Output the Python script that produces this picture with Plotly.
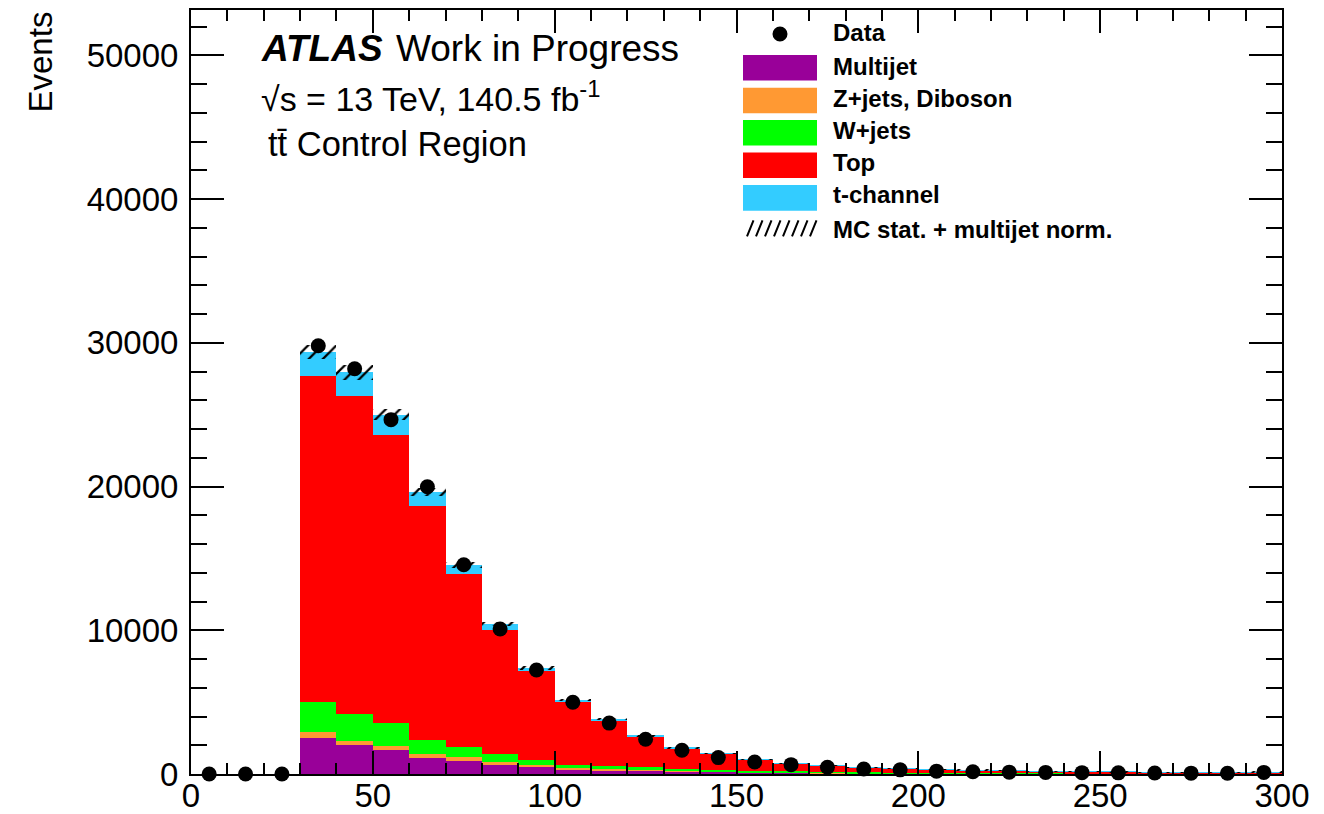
import numpy as np
import plotly.graph_objects as go

# ---------------- data ----------------
bin_low = list(range(0, 300, 10))
bin_centers = [b + 5 for b in bin_low]
bin_width = 10

multijet = [0, 0, 0, 2500, 2010, 1670, 1110, 925, 625, 460, 310, 265, 240, 175, 140,
            100, 80, 60, 50, 40, 35, 30, 25, 20, 18, 15, 12, 10, 8, 10]
zjets_diboson = [0, 0, 0, 390, 305, 270, 280, 255, 185, 140, 120, 90, 70, 50, 40,
                 30, 25, 20, 15, 12, 10, 8, 7, 6, 5, 4, 3, 3, 2, 3]
wjets = [0, 0, 0, 2130, 1855, 1600, 990, 695, 555, 370, 230, 235, 160, 110, 130,
         110, 85, 70, 55, 45, 38, 30, 25, 20, 18, 15, 12, 10, 8, 15]
top = [0, 0, 0, 22640, 22100, 20070, 16250, 12035, 8675, 6175, 4330, 3130, 2170, 1465, 1100,
       760, 535, 415, 330, 290, 250, 205, 170, 140, 125, 105, 95, 80, 70, 105]
tchannel = [0, 0, 0, 1715, 1670, 1390, 1000, 650, 400, 235, 165, 140, 35, 25, 20,
            15, 12, 10, 8, 7, 6, 5, 4, 4, 3, 3, 2, 2, 2, 3]
data = [0, 0, 0, 29790, 28190, 24650, 19980, 14560, 10090, 7230, 4990, 3540, 2420, 1650, 1140,
        830, 650, 470, 350, 290, 200, 160, 130, 110, 95, 80, 70, 60, 55, 110]
mc_unc = [0, 0, 0, 470, 520, 400, 300, 210, 150, 110, 80, 60, 45, 35, 30,
          25, 20, 15, 12, 10, 9, 8, 7, 6, 5, 5, 4, 4, 3, 5]

x_ticks = [0, 50, 100, 150, 200, 250, 300]
y_ticks = [0, 10000, 20000, 30000, 40000, 50000]

components = [
    ("Multijet", multijet, "#990099"),
    ("Z+jets, Diboson", zjets_diboson, "#FF9933"),
    ("W+jets", wjets, "#00FF00"),
    ("Top", top, "#FF0000"),
    ("t-channel", tchannel, "#33CCFF"),
]

FONT = "Liberation Sans, Arial, Helvetica, sans-serif"
W, H = 1324, 814
PL, PR, PT, PB = 191, 1282, 10, 774.5   # plot area in pixels
YMAX = 53150

fig = go.Figure()

base = np.zeros(len(bin_centers))
for name, vals, col in components:
    vals = np.array(vals, dtype=float)
    fig.add_trace(go.Bar(
        x=bin_centers, y=vals, base=base.copy(), width=bin_width,
        marker=dict(color=col, line=dict(width=0)), name=name, showlegend=False,
    ))
    base = base + vals

total = base
unc = np.array(mc_unc, dtype=float)
fig.add_trace(go.Bar(
    x=bin_centers, y=2 * unc, base=total - unc, width=bin_width,
    marker=dict(color="black", line=dict(width=0),
                pattern=dict(shape="/", size=10, solidity=0.22, fillmode="replace")),
    name="MC stat. + multijet norm.", showlegend=False,
))

fig.add_trace(go.Scatter(
    x=bin_centers, y=data, mode="markers",
    marker=dict(color="black", size=15, line=dict(width=0)),
    name="Data", showlegend=False, cliponaxis=False,
))

# ---------------- helpers for pixel placement ----------------
def px(xp):
    return (xp - PL) / (PR - PL)

def py(yp):
    return (PB - yp) / (PB - PT)

annotations = []
shapes = []

# ATLAS labels
annotations.append(dict(text="<b><i>ATLAS</i></b>", x=px(259), y=py(49), xref="paper", yref="paper",
                        xanchor="left", yanchor="middle", showarrow=False,
                        font=dict(family=FONT, size=37, color="black")))
annotations.append(dict(text="Work in Progress", x=px(394), y=py(49), xref="paper", yref="paper",
                        xanchor="left", yanchor="middle", showarrow=False,
                        font=dict(family=FONT, size=37, color="black")))
annotations.append(dict(text="√s = 13 TeV, 140.5 fb<sup>-1</sup>", x=px(259), y=py(97), xref="paper",
                        yref="paper", xanchor="left", yanchor="middle", showarrow=False,
                        font=dict(family=FONT, size=34, color="black")))
annotations.append(dict(text="tt\u0304 Control Region", x=px(266), y=py(144), xref="paper", yref="paper",
                        xanchor="left", yanchor="middle", showarrow=False,
                        font=dict(family=FONT, size=34.5, color="black")))

# y axis title (top aligned, ROOT style)
annotations.append(dict(text="Events", x=px(40), y=py(10), xref="paper", yref="paper",
                        xanchor="center", yanchor="top", textangle=-90, showarrow=False,
                        font=dict(family=FONT, size=33, color="black")))

# manual legend
sw_rows = [34, 67.8, 100.5, 132.8, 165.3, 198, 228.5]
txt_rows = [33, 66.5, 99, 130.5, 162.5, 194.5, 229.5]
text_x = 831
lfont = dict(family=FONT, size=24, color="black")
# Data
shapes.append(dict(type="circle", xref="paper", yref="paper",
                   x0=px(780 - 7.5), x1=px(780 + 7.5), y0=py(sw_rows[0] + 7.5), y1=py(sw_rows[0] - 7.5),
                   fillcolor="black", line=dict(width=0)))
annotations.append(dict(text="<b>Data</b>", x=px(text_x), y=py(txt_rows[0]), xref="paper", yref="paper",
                        xanchor="left", yanchor="middle", showarrow=False, font=lfont))
for i, (name, vals, col) in enumerate(components):
    yc = sw_rows[i + 1]
    shapes.append(dict(type="rect", xref="paper", yref="paper",
                       x0=px(743), x1=px(817), y0=py(yc + 12.8), y1=py(yc - 12.8),
                       fillcolor=col, line=dict(width=0)))
    annotations.append(dict(text=f"<b>{name}</b>", x=px(text_x), y=py(txt_rows[i + 1]), xref="paper",
                            yref="paper", xanchor="left", yanchor="middle", showarrow=False, font=lfont))
# hatch legend symbol
yc = sw_rows[6]
path = ""
for k in range(8):
    xb = 747 + k * 9
    path += f"M{px(xb)},{py(yc + 8)} L{px(xb + 6.5)},{py(yc - 8)} "
shapes.append(dict(type="path", xref="paper", yref="paper", path=path,
                   line=dict(color="black", width=2)))
annotations.append(dict(text="<b>MC stat. + multijet norm.</b>", x=px(text_x), y=py(txt_rows[6]),
                        xref="paper", yref="paper", xanchor="left", yanchor="middle", showarrow=False,
                        font=lfont))

fig.update_layout(
    width=W, height=H,
    margin=dict(l=PL, r=W - PR, t=PT, b=H - PB, pad=0, autoexpand=False),
    barmode="overlay", bargap=0,
    plot_bgcolor="white", paper_bgcolor="white",
    font=dict(family=FONT, size=33, color="black"),
    showlegend=False,
    annotations=annotations, shapes=shapes,
)

fig.update_xaxes(
    range=[0, 300], tickvals=x_ticks, ticktext=[str(v) for v in x_ticks],
    showgrid=False, zeroline=False, automargin=False,
    showline=True, linecolor="black", linewidth=2, mirror="allticks",
    ticks="inside", ticklen=23, tickwidth=2, tickcolor="black",
    minor=dict(dtick=10, ticks="inside", ticklen=11, tickwidth=2, tickcolor="black", showgrid=False),
    tickfont=dict(family=FONT, size=33, color="black"),
    ticklabelstandoff=-9,
)
fig.update_yaxes(
    range=[0, YMAX], tickvals=y_ticks, ticktext=[str(v) for v in y_ticks],
    showgrid=False, zeroline=False, automargin=False,
    showline=True, linecolor="black", linewidth=2, mirror="allticks",
    ticks="inside", ticklen=33, tickwidth=2, tickcolor="black",
    minor=dict(dtick=2000, ticks="inside", ticklen=16, tickwidth=2, tickcolor="black", showgrid=False),
    tickfont=dict(family=FONT, size=33, color="black"),
    ticklabelstandoff=4,
)

fig.write_html("out.html")
